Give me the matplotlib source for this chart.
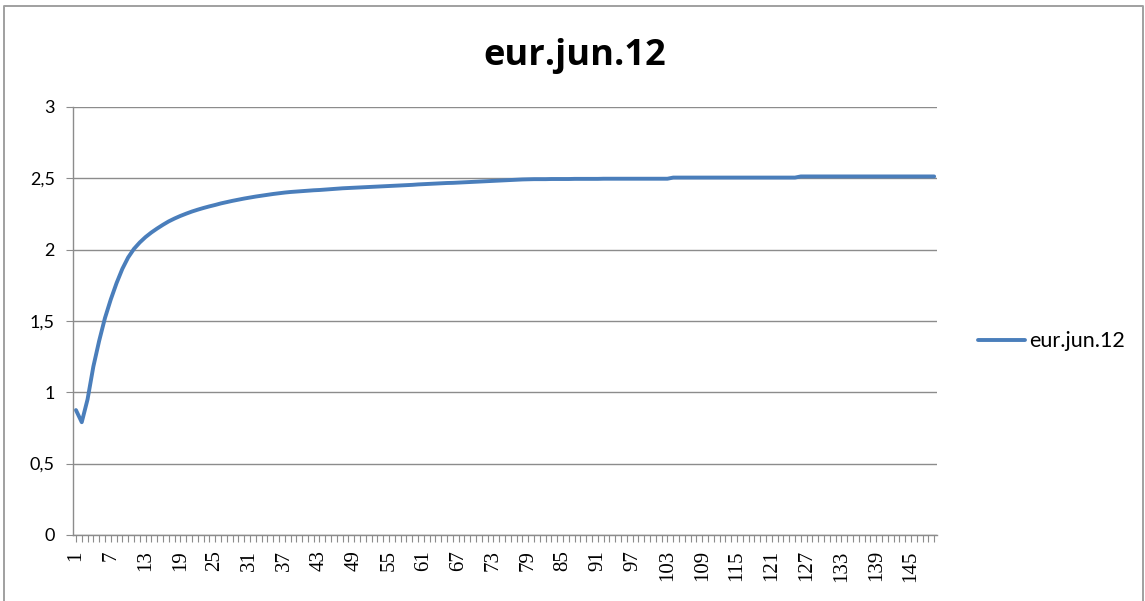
#!/usr/bin/env python
# line chart of eur.jun.12, Excel look
import numpy as np
import matplotlib.pyplot as plt
from matplotlib.lines import Line2D

title = 'eur.jun.12'
series_name = 'eur.jun.12'

values = [
    0.875, 0.790, 0.950, 1.180, 1.360, 1.520, 1.650, 1.765, 1.865, 1.945,
    2.005, 2.050, 2.088, 2.120, 2.148, 2.174, 2.198, 2.218, 2.236, 2.252,
    2.267, 2.280, 2.292, 2.303, 2.313, 2.324, 2.333, 2.342, 2.350, 2.358,
    2.365, 2.372, 2.378, 2.384, 2.390, 2.395, 2.400, 2.404, 2.407, 2.410,
    2.413, 2.416, 2.418, 2.421, 2.424, 2.427, 2.430, 2.432, 2.434, 2.436,
    2.438, 2.440, 2.442, 2.444, 2.446, 2.448, 2.450, 2.452, 2.454, 2.457,
    2.459, 2.461, 2.463, 2.465, 2.467, 2.468, 2.470, 2.472, 2.474, 2.476,
    2.478, 2.480, 2.482, 2.484, 2.486, 2.488, 2.490, 2.492, 2.493, 2.494,
    2.494, 2.494, 2.495, 2.495, 2.495, 2.495, 2.496, 2.496, 2.496, 2.496,
    2.496, 2.497, 2.497, 2.497, 2.497, 2.497, 2.497, 2.497, 2.497, 2.497,
    2.497, 2.497, 2.497, 2.505, 2.505, 2.505, 2.505, 2.505, 2.505, 2.505,
    2.505, 2.505, 2.505, 2.505, 2.505, 2.505, 2.505, 2.505, 2.505, 2.505,
    2.505, 2.505, 2.505, 2.505, 2.505, 2.513, 2.513, 2.513, 2.513, 2.513,
    2.513, 2.513, 2.513, 2.513, 2.513, 2.513, 2.513, 2.513, 2.513, 2.513,
    2.513, 2.513, 2.513, 2.513, 2.513, 2.513, 2.513, 2.513, 2.513,
]
categories = np.arange(1, len(values) + 1)
label_step = 6

y_ticks = [0, 0.5, 1, 1.5, 2, 2.5, 3]
y_labels = ['0', '0,5', '1', '1,5', '2', '2,5', '3']

grey = '#8c8c8c'
blue = '#4a7ebb'

fig = plt.figure(figsize=(11.45, 6.01), dpi=100)
ax = fig.add_axes([0.0638, 0.110, 0.7546, 0.712])

line, = ax.plot(categories, values, color=blue, lw=2.8, solid_capstyle='round')

ax.set_xlim(0.5, len(values) + 0.5)
ax.set_ylim(0, 3)
ax.set_yticks(y_ticks)
ax.set_yticklabels(y_labels, fontsize=13, family='Lato')
ax.grid(axis='y', color=grey, lw=1)
ax.set_axisbelow(True)

# every category gets a tick, every 6th a label
ax.set_xticks(categories)
ax.set_xticklabels([str(c) if (c - 1) % label_step == 0 else '' for c in categories],
                   rotation=90, fontsize=15, family='Liberation Serif')
ax.tick_params(axis='x', length=5, width=0.8, color=grey, pad=6)
ax.tick_params(axis='y', length=5, width=0.8, color=grey, pad=8)

for side in ('top', 'right'):
    ax.spines[side].set_visible(False)
for side in ('left', 'bottom'):
    ax.spines[side].set_color(grey)
    ax.spines[side].set_linewidth(1)

fig.text(0.502, 0.907, title, ha='center', va='center', fontsize=26,
         fontweight='bold', family='Open Sans')

ax.legend([line], [series_name], loc='center left', bbox_to_anchor=(1.025, 0.453),
          frameon=False, handlelength=2.2, handletextpad=0.15,
          prop={'family': 'Lato', 'size': 15.5})

# chart border
fig.add_artist(Line2D([0.0035, 0.0035, 0.998, 0.998], [0.0, 0.990, 0.990, 0.0],
                      transform=fig.transFigure, color='#a0a0a0', lw=1.4))

fig.savefig('out.png', dpi=100)
